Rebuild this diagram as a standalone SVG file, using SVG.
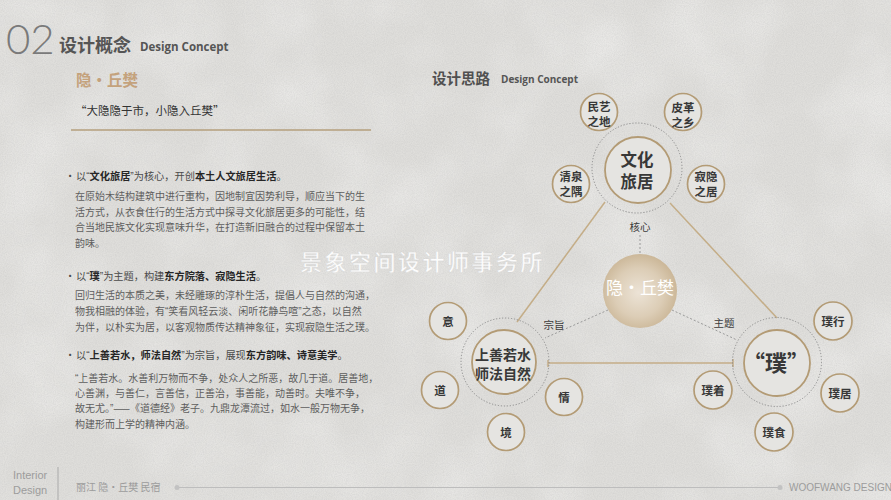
<svg xmlns="http://www.w3.org/2000/svg" width="891" height="500" viewBox="0 0 891 500">
<defs>
<style>
.cjk{font-family:"Noto Sans CJK SC",sans-serif}
.lat{font-family:"Open Sans","Liberation Sans",sans-serif}
.q{font-family:"Liberation Sans",sans-serif}
.para{font-family:"Noto Sans CJK SC",sans-serif;font-size:10px;fill:#5e5e5e}
.bul{font-family:"Noto Sans CJK SC",sans-serif;font-size:10.2px;fill:#4a4a4a}
.b{font-weight:bold;fill:#262626}
.ring{fill:#e5e4e1;stroke:#b39b75;stroke-width:1.8}
.sat{fill:#e5e4e1;stroke:#b39b75;stroke-width:1.7}
.dotc{fill:none;stroke:#8c8c8c;stroke-width:1;stroke-dasharray:1.2 1.8}
.lbl{font-family:"Noto Sans CJK SC",sans-serif;font-size:11.5px;font-weight:bold;fill:#383838;text-anchor:middle}
.big{font-size:16.5px}
.mid{font-size:14px}
.pu{font-size:22px}
.tri{stroke:#c4ad87;stroke-width:1.5;fill:none}
.dash{stroke:#9a9a9a;stroke-width:1;stroke-dasharray:2 2;fill:none}
.cap{font-family:"Noto Sans CJK SC",sans-serif;font-size:10.5px;fill:#3c3c3c;text-anchor:middle}
.foot{fill:#9c9c9c}
</style>
<radialGradient id="gc" cx="48%" cy="52%" r="55%">
<stop offset="0" stop-color="#ece3d6"/>
<stop offset="0.6" stop-color="#dccdb6"/>
<stop offset="1" stop-color="#c9b494"/>
</radialGradient>
<filter id="grain" x="0" y="0" width="100%" height="100%">
<feTurbulence type="fractalNoise" baseFrequency="0.9" numOctaves="2" seed="4"/>
<feColorMatrix type="matrix" values="0 0 0 0 0.45  0 0 0 0 0.45  0 0 0 0 0.45  0.4 0 0 0 -0.12"/>
</filter>
<filter id="mottle" x="0" y="0" width="100%" height="100%">
<feTurbulence type="fractalNoise" baseFrequency="0.012" numOctaves="3" seed="7"/>
<feColorMatrix type="matrix" values="0 0 0 0 1  0 0 0 0 1  0 0 0 0 1  0.7 0 0 0 -0.28"/>
</filter>
</defs>

<rect width="891" height="500" fill="#dfdedb"/>
<rect width="891" height="500" filter="url(#mottle)"/>
<rect width="891" height="500" filter="url(#grain)"/>

<!-- Header -->
<g id="header">
<text x="6" y="54" font-family="Lato, 'Open Sans', sans-serif" font-weight="300" font-size="42" fill="#7a7a7a">02</text>
<text x="59" y="52" class="cjk" font-size="18" font-weight="bold" fill="#555">设计概念</text>
<text x="140" y="51" class="lat" font-size="11.5" font-weight="bold" fill="#555">Design Concept</text>
<text x="76" y="86" class="cjk" font-size="15.5" font-weight="bold" fill="#c4a27c">隐·丘樊</text>
<text x="75" y="115" class="cjk" font-size="11.5" fill="#333">“大隐隐于市，小隐入丘樊”</text>
<line x1="71" y1="130" x2="371" y2="130" stroke="#b59f7c" stroke-width="1.5"/>
</g>

<!-- Left text -->
<g id="text-block">
<text x="65" y="180" class="bul">•</text>
<text x="76" y="180" class="bul">以<tspan class="q">“</tspan><tspan class="b">文化旅居</tspan><tspan class="q">”</tspan>为核心，开创<tspan class="b">本土人文旅居生活</tspan>。</text>
<text x="75" y="200" class="para">在原始木结构建筑中进行重构，因地制宜因势利导，顺应当下的生</text>
<text x="75" y="216" class="para">活方式，从衣食住行的生活方式中探寻文化旅居更多的可能性，结</text>
<text x="75" y="231" class="para">合当地民族文化实现意味升华，在打造新旧融合的过程中保留本土</text>
<text x="75" y="247" class="para">韵味。</text>

<text x="65" y="280" class="bul">•</text>
<text x="76" y="280" class="bul">以<tspan class="q">“</tspan><tspan class="b">璞</tspan><tspan class="q">”</tspan>为主题，构建<tspan class="b">东方院落、寂隐生活</tspan>。</text>
<text x="75" y="299" class="para">回归生活的本质之美，未经雕琢的淳朴生活，提倡人与自然的沟通，</text>
<text x="75" y="315" class="para">物我相融的体验，有<tspan class="q">“</tspan>笑看风轻云淡、闲听花静鸟喧<tspan class="q">”</tspan>之态，以自然</text>
<text x="75" y="331" class="para">为伴，以朴实为居，以客观物质传达精神象征，实现寂隐生活之璞。</text>

<text x="65" y="359" class="bul">•</text>
<text x="76" y="359" class="bul">以<tspan class="q">“</tspan><tspan class="b">上善若水，师法自然</tspan><tspan class="q">”</tspan>为宗旨，展现<tspan class="b">东方韵味、诗意美学</tspan>。</text>
<text x="75" y="382" class="para"><tspan class="q">“</tspan>上善若水。水善利万物而不争，处众人之所恶，故几于道。居善地，</text>
<text x="75" y="397" class="para">心善渊，与善仁，言善信，正善治，事善能，动善时。夫唯不争，</text>
<text x="75" y="412" class="para">故无尤。<tspan class="q">”</tspan>——《道德经》老子。九鼎龙潭流过，如水一般万物无争，</text>
<text x="75" y="428" class="para">构建形而上学的精神内涵。</text>
</g>

<!-- Right header -->
<g id="right-title">
<text x="432" y="84" class="cjk" font-size="14.5" font-weight="bold" fill="#505050">设计思路</text>
<text x="501" y="83" class="lat" font-size="10" font-weight="bold" fill="#555">Design Concept</text>
</g>

<!-- Connectors -->
<g id="connectors">
<line class="tri" x1="605" y1="202" x2="517" y2="322"/>
<line class="tri" x1="670" y1="203" x2="777" y2="318"/>
<line class="tri" x1="548" y1="363" x2="733" y2="363"/>
<line class="tri" x1="548" y1="360" x2="548" y2="367"/>
<line class="tri" x1="733" y1="359" x2="733" y2="367"/>
<line class="dash" x1="640" y1="235" x2="640" y2="254"/>
<line class="dash" x1="608" y1="310" x2="545" y2="338"/>
<line class="dash" x1="672" y1="310" x2="737" y2="340"/>
<text x="640" y="231" class="cap">核心</text>
<text x="554" y="329" class="cap">宗旨</text>
<text x="724" y="327" class="cap">主题</text>
</g>

<!-- Watermark -->
<text x="300" y="270" class="cjk" font-size="22" font-weight="500" letter-spacing="2.5" fill="#ffffff" fill-opacity="0.95" stroke="#d0d0d0" stroke-width="0.3">景象空间设计师事务所</text>

<!-- Center node -->
<g id="node-center">
<circle cx="640" cy="291" r="37" fill="url(#gc)"/>
<text x="640" y="294" class="cjk" font-size="17" fill="#ffffff" text-anchor="middle">隐·丘樊</text>
</g>

<!-- Top node -->
<g id="node-wenhua">
<circle class="dotc" cx="637" cy="168" r="45"/>
<circle class="ring" cx="638" cy="170" r="33"/>
<text x="637" y="165.5" class="lbl big">文化<tspan x="637" dy="22">旅居</tspan></text>
</g>
<g id="node-minyi">
<circle class="sat" cx="599" cy="112" r="18.5"/>
<text x="599" y="110.5" class="lbl">民艺<tspan x="599" dy="15">之地</tspan></text>
</g>
<g id="node-pige">
<circle class="sat" cx="683" cy="112" r="18.5"/>
<text x="683" y="112" class="lbl">皮革<tspan x="683" dy="15">之乡</tspan></text>
</g>
<g id="node-qingquan">
<circle class="sat" cx="571" cy="184" r="18.5"/>
<text x="571" y="181" class="lbl">清泉<tspan x="571" dy="15">之隅</tspan></text>
</g>
<g id="node-jiyin">
<circle class="sat" cx="706" cy="184" r="18.5"/>
<text x="706" y="181" class="lbl">寂隐<tspan x="706" dy="15">之居</tspan></text>
</g>

<!-- Bottom-left node -->
<g id="node-shangshan">
<circle class="dotc" cx="505" cy="362" r="44"/>
<circle class="ring" cx="504" cy="362" r="32"/>
<text x="503" y="360" class="lbl mid">上善若水<tspan x="503" dy="18.5">师法自然</tspan></text>
</g>
<g id="node-yi">
<circle class="sat" cx="448" cy="321" r="18.5"/>
<text x="448" y="326" class="lbl">意</text>
</g>
<g id="node-dao">
<circle class="sat" cx="440" cy="390" r="18.5"/>
<text x="440" y="394.5" class="lbl">道</text>
</g>
<g id="node-qing">
<circle class="sat" cx="564" cy="397" r="18.5"/>
<text x="564" y="401.5" class="lbl">情</text>
</g>
<g id="node-jing">
<circle class="sat" cx="506" cy="432" r="18.5"/>
<text x="506" y="436.5" class="lbl">境</text>
</g>

<!-- Bottom-right node -->
<g id="node-pu">
<circle class="dotc" cx="777" cy="362" r="44.5"/>
<circle class="ring" cx="777" cy="363" r="33"/>
<text x="776" y="371" class="lbl pu">“璞”</text>
</g>
<g id="node-puxing">
<circle class="sat" cx="833" cy="321" r="19"/>
<text x="833" y="325.5" class="lbl">璞行</text>
</g>
<g id="node-puju">
<circle class="sat" cx="840" cy="393" r="19"/>
<text x="840" y="397.5" class="lbl">璞居</text>
</g>
<g id="node-pushi">
<circle class="sat" cx="774" cy="432" r="19"/>
<text x="774" y="436.5" class="lbl">璞食</text>
</g>
<g id="node-puzhuo">
<circle class="sat" cx="713" cy="390" r="19"/>
<text x="713" y="394.5" class="lbl">璞着</text>
</g>

<!-- Footer -->
<g id="footer">
<text x="13" y="479" font-family="'Liberation Sans', sans-serif" font-size="11" class="foot">Interior</text>
<text x="13" y="494" font-family="'Liberation Sans', sans-serif" font-size="11" class="foot">Design</text>
<line x1="58" y1="467" x2="58" y2="500" stroke="#aaa" stroke-width="1"/>
<text x="76" y="491" class="cjk foot" font-size="10">丽江 隐·丘樊 民宿</text>
<line x1="177" y1="487.5" x2="780" y2="487.5" stroke="#bdbdbd" stroke-width="1"/>
<circle cx="177" cy="487.5" r="2.5" fill="#c2c2c2"/>
<circle cx="780" cy="487.5" r="2.5" fill="#c2c2c2"/>
<text x="789" y="491" font-family="'Liberation Sans', sans-serif" font-size="10" class="foot">WOOFWANG DESIGN</text>
</g>
</svg>
